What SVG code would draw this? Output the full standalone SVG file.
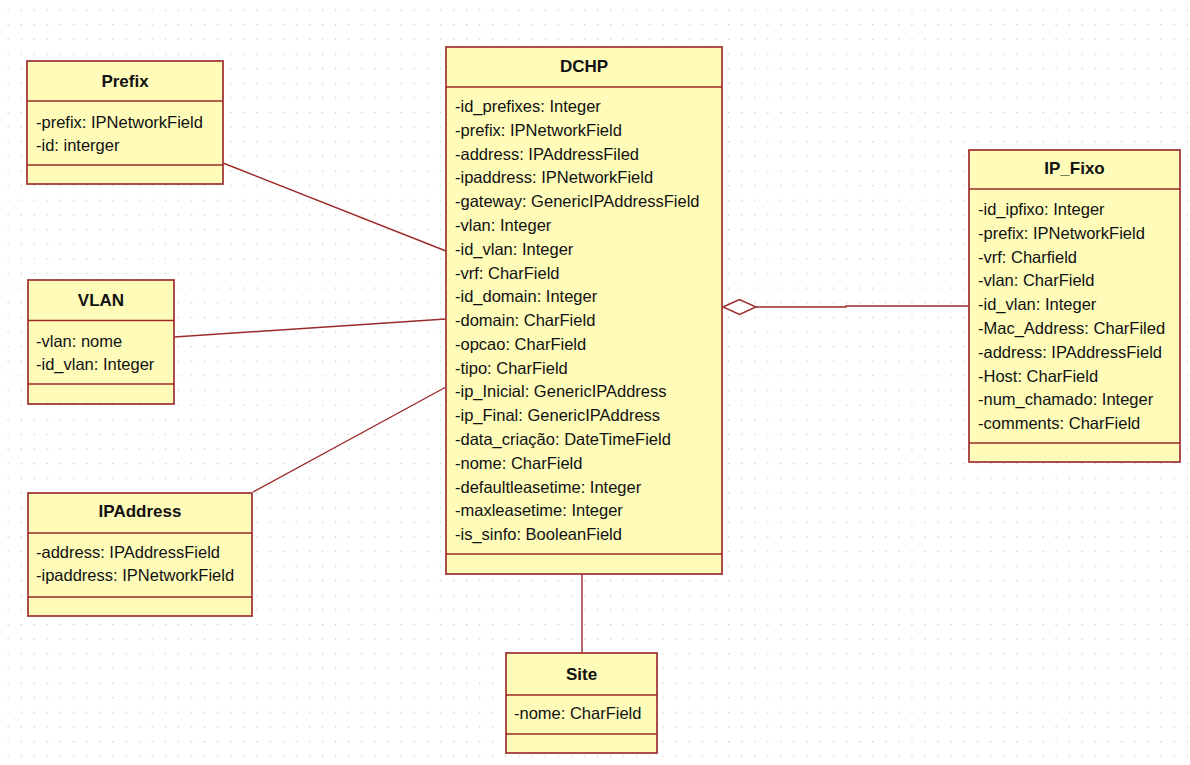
<svg xmlns="http://www.w3.org/2000/svg" width="1190" height="765" viewBox="0 0 1190 765">
<style>
.box{fill:#fffcb9;stroke:#a33a3a;stroke-width:1.8}
.div{stroke:#9b2a2a;stroke-width:1.6;fill:none}
.t{font-family:"Liberation Sans",Arial,sans-serif;font-size:16.5px;fill:#111}
.h{font-family:"Liberation Sans",Arial,sans-serif;font-size:17px;font-weight:bold;fill:#111;text-anchor:middle}
.c{stroke:#9b2a2a;stroke-width:1.4;fill:none}
</style>
<defs>
<pattern id="grid" x="7.5" y="9.5" width="13.1" height="14.63" patternUnits="userSpaceOnUse">
<rect x="0" y="0" width="1.2" height="1.2" fill="#c6c6c6"/>
</pattern>
</defs>
<rect width="1190" height="765" fill="#ffffff"/>
<rect width="1190" height="765" fill="url(#grid)"/>

<g id="connectors">
<line class="c" x1="223" y1="163" x2="446" y2="251"/>
<line class="c" x1="174" y1="337" x2="446" y2="319"/>
<line class="c" x1="253" y1="492" x2="446" y2="387"/>
<line class="c" x1="582" y1="574" x2="582" y2="653"/>
<polyline class="c" points="756,307 846,307 846,306 969,306"/>
<polygon class="c" fill="#ffffff" points="723,307 739.5,299.5 756,307 739.5,314.5"/>
</g>

<g id="Prefix">
<rect class="box" x="27" y="61" width="196" height="123"/>
<line class="div" x1="27" y1="101" x2="223" y2="101"/>
<line class="div" x1="27" y1="165" x2="223" y2="165"/>
<text class="h" x="125" y="87">Prefix</text>
<text class="t" x="36" y="128">-prefix: IPNetworkField</text>
<text class="t" x="36" y="151">-id: interger</text>
</g>

<g id="VLAN">
<rect class="box" x="28" y="280" width="146" height="124"/>
<line class="div" x1="28" y1="320.5" x2="174" y2="320.5"/>
<line class="div" x1="28" y1="384" x2="174" y2="384"/>
<text class="h" x="101" y="306">VLAN</text>
<text class="t" x="36" y="347">-vlan: nome</text>
<text class="t" x="36" y="370">-id_vlan: Integer</text>
</g>

<g id="IPAddress">
<rect class="box" x="28" y="493" width="224" height="123"/>
<line class="div" x1="28" y1="533" x2="252" y2="533"/>
<line class="div" x1="28" y1="597" x2="252" y2="597"/>
<text class="h" x="140" y="517">IPAddress</text>
<text class="t" x="36" y="558">-address: IPAddressField</text>
<text class="t" x="36" y="581">-ipaddress: IPNetworkField</text>
</g>

<g id="DCHP">
<rect class="box" x="446" y="47" width="276" height="527"/>
<line class="div" x1="446" y1="87" x2="722" y2="87"/>
<line class="div" x1="446" y1="554" x2="722" y2="554"/>
<text class="h" x="584" y="72">DCHP</text>
<text class="t" x="455" y="112">-id_prefixes: Integer</text>
<text class="t" x="455" y="135.8">-prefix: IPNetworkField</text>
<text class="t" x="455" y="159.6">-address: IPAddressFiled</text>
<text class="t" x="455" y="183.3">-ipaddress: IPNetworkField</text>
<text class="t" x="455" y="207.1">-gateway: GenericIPAddressField</text>
<text class="t" x="455" y="230.9">-vlan: Integer</text>
<text class="t" x="455" y="254.7">-id_vlan: Integer</text>
<text class="t" x="455" y="278.5">-vrf: CharField</text>
<text class="t" x="455" y="302.2">-id_domain: Integer</text>
<text class="t" x="455" y="326">-domain: CharField</text>
<text class="t" x="455" y="349.8">-opcao: CharField</text>
<text class="t" x="455" y="373.6">-tipo: CharField</text>
<text class="t" x="455" y="397.4">-ip_Inicial: GenericIPAddress</text>
<text class="t" x="455" y="421.1">-ip_Final: GenericIPAddress</text>
<text class="t" x="455" y="444.9">-data_criação: DateTimeField</text>
<text class="t" x="455" y="468.7">-nome: CharField</text>
<text class="t" x="455" y="492.5">-defaultleasetime: Integer</text>
<text class="t" x="455" y="516.3">-maxleasetime: Integer</text>
<text class="t" x="455" y="540">-is_sinfo: BooleanField</text>
</g>

<g id="IP_Fixo">
<rect class="box" x="969" y="150" width="211" height="312"/>
<line class="div" x1="969" y1="189" x2="1180" y2="189"/>
<line class="div" x1="969" y1="443" x2="1180" y2="443"/>
<text class="h" x="1074.5" y="174">IP_Fixo</text>
<text class="t" x="978" y="215">-id_ipfixo: Integer</text>
<text class="t" x="978" y="238.8">-prefix: IPNetworkField</text>
<text class="t" x="978" y="262.6">-vrf: Charfield</text>
<text class="t" x="978" y="286.3">-vlan: CharField</text>
<text class="t" x="978" y="310.1">-id_vlan: Integer</text>
<text class="t" x="978" y="333.9">-Mac_Address: CharFiled</text>
<text class="t" x="978" y="357.7">-address: IPAddressField</text>
<text class="t" x="978" y="381.5">-Host: CharField</text>
<text class="t" x="978" y="405.2">-num_chamado: Integer</text>
<text class="t" x="978" y="429">-comments: CharField</text>
</g>

<g id="Site">
<rect class="box" x="506" y="653" width="151" height="100"/>
<line class="div" x1="506" y1="695" x2="657" y2="695"/>
<line class="div" x1="506" y1="734" x2="657" y2="734"/>
<text class="h" x="581.5" y="680">Site</text>
<text class="t" x="514" y="719">-nome: CharField</text>
</g>
</svg>
